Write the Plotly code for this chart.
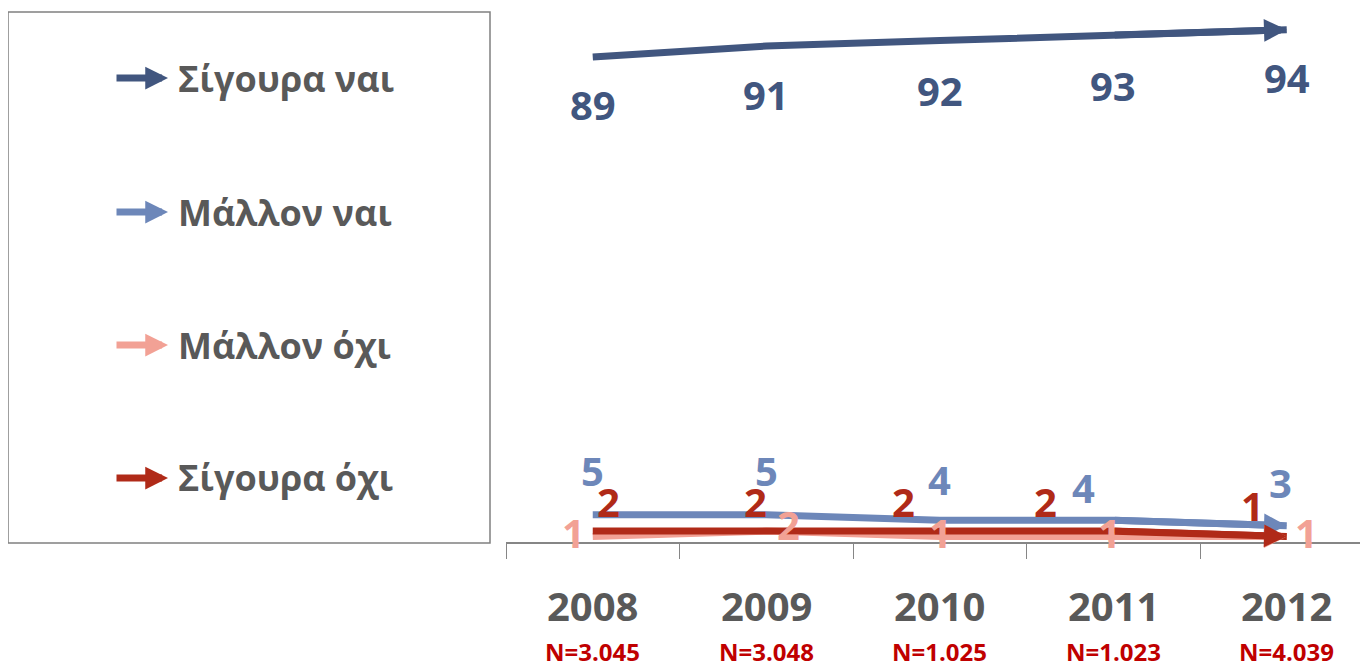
import plotly.graph_objects as go

# page body has an 8px margin, so the figure is a bit smaller than the window
OFF = 8
W, H = 1368 - OFF, 669 - OFF

years = ['2008', '2009', '2010', '2011', '2012']
sample_sizes = ['N=3.045', 'N=3.048', 'N=1.025', 'N=1.023', 'N=4.039']

series_names = ['Σίγουρα ναι', 'Μάλλον ναι', 'Μάλλον όχι', 'Σίγουρα όχι']
sure_yes = [89, 91, 92, 93, 94]
rather_yes = [5, 5, 4, 4, 3]
rather_no = [1, 2, 1, 1, 1]
sure_no = [2, 2, 2, 2, 1]

colors = ['#41567F', '#6D87B9', '#F2A195', '#B02A18']

# label offsets in pixels (dx, dy) per point, for readability
label_shift = [
    [(0, -48), (0, -48), (0, -50), (0, -50), (0, -48)],
    [(0, 44), (0, 44), (0, 41), (-30, 33), (-6, 43)],
    [(-19, 4), (22, 7), (1, 4), (-4, 4), (20, 4)],
    [(16, 30), (-11, 30), (-36, 30), (-68, 30), (-34, 31)],
]

FONT = 'Open Sans'
GREY = '#595959'


def px(x):
    return (x - OFF) / W


def py(y):
    return 1 - (y - OFF) / H


xs = list(range(len(years)))
all_series = [sure_yes, rather_yes, rather_no, sure_no]

fig = go.Figure()
for name, vals, col in zip(series_names, all_series, colors):
    fig.add_trace(go.Scatter(x=xs, y=vals, mode='lines', name=name,
                             line=dict(color=col, width=7), showlegend=False))

ann = []
# arrow heads at the end of each line
for vals, col in zip(all_series, colors):
    ann.append(dict(x=xs[-1], y=vals[-1], ax=xs[-2], ay=vals[-2],
                    xref='x', yref='y', axref='x', ayref='y', text='',
                    showarrow=True, arrowhead=2, arrowwidth=7, arrowsize=0.65,
                    arrowcolor=col))

# data labels
for vals, col, shifts in zip(all_series, colors, label_shift):
    for i, v, (dx, dy) in zip(xs, vals, shifts):
        ann.append(dict(x=i, y=v, xref='x', yref='y', text='<b>%d</b>' % v,
                        showarrow=False, xshift=dx, yshift=dy, yanchor='middle',
                        font=dict(family=FONT, size=40, color=col)))

# year and sample size labels under the axis
for i, yr, n in zip(xs, years, sample_sizes):
    ann.append(dict(x=i, y=py(605), xref='x', yref='paper', text='<b>%s</b>' % yr,
                    showarrow=False, yanchor='middle',
                    font=dict(family=FONT, size=40, color=GREY)))
    ann.append(dict(x=i, y=py(651), xref='x', yref='paper', text='<b>%s</b>' % n,
                    showarrow=False, yanchor='middle',
                    font=dict(family=FONT, size=24, color='#C00000')))

# custom legend with arrows
legend_y = [78, 212, 345, 478]
for name, col, ly in zip(series_names, colors, legend_y):
    ann.append(dict(x=px(168), y=py(ly), xref='paper', yref='paper', ax=-53, ay=0,
                    axref='pixel', ayref='pixel', text='', showarrow=True,
                    arrowhead=2, arrowwidth=7, arrowsize=0.65, arrowcolor=col))
    ann.append(dict(x=px(176), y=py(ly), xref='paper', yref='paper', text='<b>%s</b>' % name,
                    showarrow=False, xanchor='left', yanchor='middle',
                    font=dict(family=FONT, size=36, color=GREY)))

fig.update_layout(
    width=W, height=H,
    margin=dict(l=0, r=0, t=0, b=0),
    paper_bgcolor='white', plot_bgcolor='white',
    annotations=ann,
    shapes=[dict(type='rect', xref='paper', yref='paper',
                 x0=px(8), x1=px(490), y0=py(543), y1=py(12),
                 line=dict(color='#808080', width=1.5))],
    xaxis=dict(domain=[px(506), 1], range=[-0.5, -0.5 + 862 / 173.5],
               showline=True, linecolor='#868686', linewidth=1.5,
               tickvals=[i - 0.5 for i in range(len(years) + 1)],
               ticks='outside', ticklen=15, tickcolor='#868686',
               showticklabels=False, showgrid=False, zeroline=False),
    yaxis=dict(domain=[py(542), 1], range=[0, (542 - OFF) / 5.45], visible=False,
               showgrid=False, zeroline=False),
)

fig.write_html('out.html')
